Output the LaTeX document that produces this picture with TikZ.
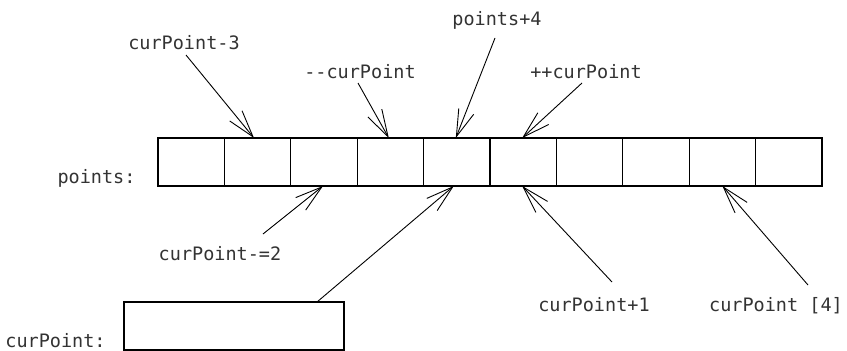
\documentclass[tikz,border=0pt]{standalone}
\usepackage{fontspec}
\newfontfamily\codefont{DejaVu Sans Mono}
\usetikzlibrary{arrows.meta}
\begin{document}
\begin{tikzpicture}[x=1pt,y=-1pt,
  cell/.style={draw,line width=1.1pt,minimum width=66.4pt,minimum height=48pt,inner sep=0pt,outer sep=0pt},
  varbox/.style={draw,line width=1.1pt,minimum width=220pt,minimum height=48pt,inner sep=0pt,outer sep=0pt},
  lbl/.style={anchor=base,inner sep=0pt,font=\codefont\fontsize{18.5}{20}\selectfont,text=black!80},
  arr/.style={line width=0.9pt,-{Straight Barb[length=27pt,width=16pt,line width=0.9pt]}}]
\useasboundingbox (0,0) rectangle (847,351);
% array cells
\foreach \i in {1,...,10} {
  \node[cell] (c\i) at ({158+66.4*(\i-0.5)},162) {};
}
\node[varbox] (box) at (234,326) {};
% labels
\node[lbl] (pts) at (96.5,183) {points:};
\node[lbl] (cpv) at (55.5,347) {curPoint:};
\node[lbl] (l1) at (184,49) {curPoint-3};
\node[lbl] (l2) at (360,78) {-{}-curPoint};
\node[lbl] (l3) at (497,25) {points+4};
\node[lbl] (l4) at (586,78) {++curPoint};
\node[lbl] (l5) at (220,260) {curPoint-=2};
\node[lbl] (l6) at (594,311) {curPoint+1};
\node[lbl] (l7) at (776,311) {curPoint [4]};
% arrows
\draw[arr] ([shift={(2,6)}]l1.base) -- ([xshift=-3.6pt]c2.north);
\draw[arr] ([shift={(-2,5)}]l2.base) -- ([xshift=-1.6pt]c4.north);
\draw[arr] ([shift={(-2,13)}]l3.base) -- ([xshift=-1pt]c5.north);
\draw[arr] ([shift={(-4,5)}]l4.base) -- ([xshift=-1pt]c6.north);
\draw[arr] ([shift={(43,-26)}]l5.base) -- ([xshift=-1pt]c3.south);
\draw[arr] ([xshift=83pt]box.north) -- ([xshift=-3pt]c5.south);
\draw[arr] ([shift={(18,-29)}]l6.base) -- ([xshift=-1pt]c6.south);
\draw[arr] ([shift={(32,-26)}]l7.base) -- (c9.south);
\end{tikzpicture}
\end{document}
